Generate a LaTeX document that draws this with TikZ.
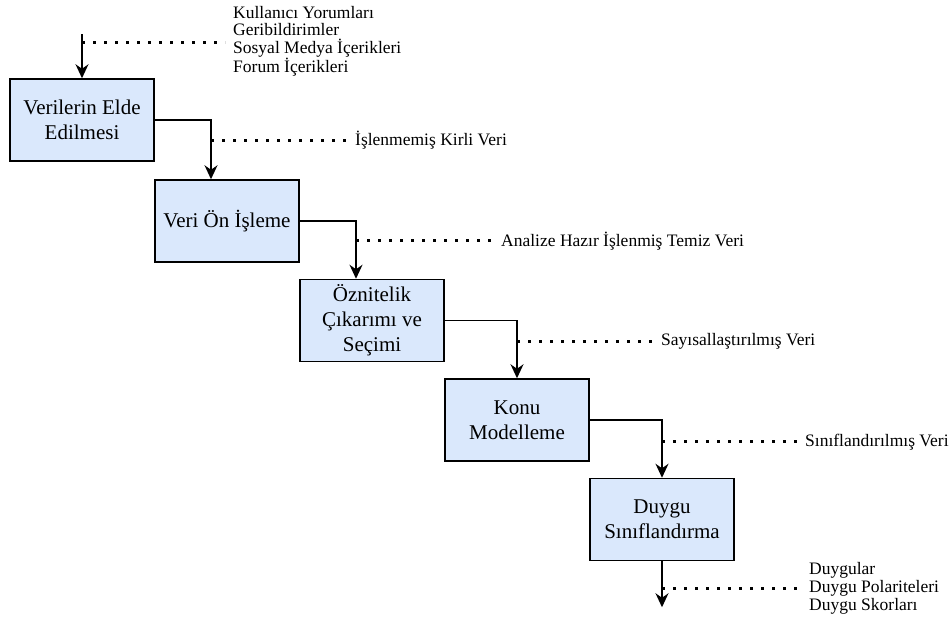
\documentclass[tikz,border=0pt]{standalone}
\usepackage{fontspec}
\setmainfont{Liberation Serif}
\usepackage{xcolor}
\usepackage{tikz}
\usetikzlibrary{arrows.meta,positioning,calc}
\definecolor{boxblue}{RGB}{218,232,252}

\begin{document}
\begin{tikzpicture}[x=1pt, y=-1pt, box/.style={draw, line width=1.5pt, fill=boxblue, align=center, minimum width=144pt, minimum height=82pt, font=\fontsize{21}{25}\selectfont}, arr/.style={-{Stealth[length=14pt,width=13pt]}, line width=1.5pt}, dots/.style={line width=3pt, dash pattern=on 3pt off 8pt}, lbl/.style={align=left, inner xsep=8pt, inner ysep=0pt, anchor=west, font=\fontsize{17.5}{17.7}\selectfont}]
\useasboundingbox (0,0) rectangle (951,620);
\node[box] (veri) at (82,120) {Verilerin Elde\\Edilmesi};
\node[box, below right=17.5pt and -0.5pt of veri] (onisleme) {Veri Ön İşleme};
\node[box, below right=16pt and -0.5pt of onisleme] (oznitelik) {Öznitelik\\Çıkarımı ve\\Seçimi};
\node[box, below right=16pt and -0.5pt of oznitelik] (konu) {Konu\\Modelleme};
\node[box, below right=16pt and -0.5pt of konu] (duygu) {Duygu\\Sınıflandırma};
\coordinate (giris) at ([yshift=44pt]veri.north);
\coordinate (cikis) at ([yshift=-46pt]duygu.south);
\coordinate (k0) at ([yshift=36pt]veri.north);
\coordinate (k1) at ([xshift=-16pt,yshift=39pt]onisleme.north);
\coordinate (k2) at ([xshift=-16pt,yshift=38pt]oznitelik.north);
\coordinate (k3) at ([yshift=37pt]konu.north);
\coordinate (k4) at ([yshift=36pt]duygu.north);
\coordinate (k5) at ([yshift=-27pt]duygu.south);
\node[lbl, right=143pt of k0, yshift=1pt] (l0) {Kullanıcı Yorumları\\Geribildirimler\\Sosyal Medya İçerikleri\\Forum İçerikleri};
\node[lbl, right=136pt of k1] (l1) {İşlenmemiş Kirli Veri};
\node[lbl, right=137pt of k2] (l2) {Analize Hazır İşlenmiş Temiz Veri};
\node[lbl, right=136pt of k3] (l3) {Sayısallaştırılmış Veri};
\node[lbl, right=135pt of k4] (l4) {Sınıflandırılmış Veri};
\node[lbl, right=139pt of k5] (l5) {Duygular\\Duygu Polariteleri\\Duygu Skorları};
\draw[arr] (giris) -- (veri.north);
\draw[arr] (veri.east) -| ([xshift=-16pt]onisleme.north);
\draw[arr] (onisleme.east) -| ([xshift=-16pt]oznitelik.north);
\draw[arr] (oznitelik.east) -| (konu.north);
\draw[arr] (konu.east) -| (duygu.north);
\draw[arr] (duygu.south) -- (cikis);
\draw[dots] (k0) -- (k0 -| l0.west);
\draw[dots] (k1) -- (l1.west);
\draw[dots] (k2) -- (l2.west);
\draw[dots] (k3) -- (l3.west);
\draw[dots] (k4) -- (l4.west);
\draw[dots] (k5) -- (l5.west);
\end{tikzpicture}
\end{document}
